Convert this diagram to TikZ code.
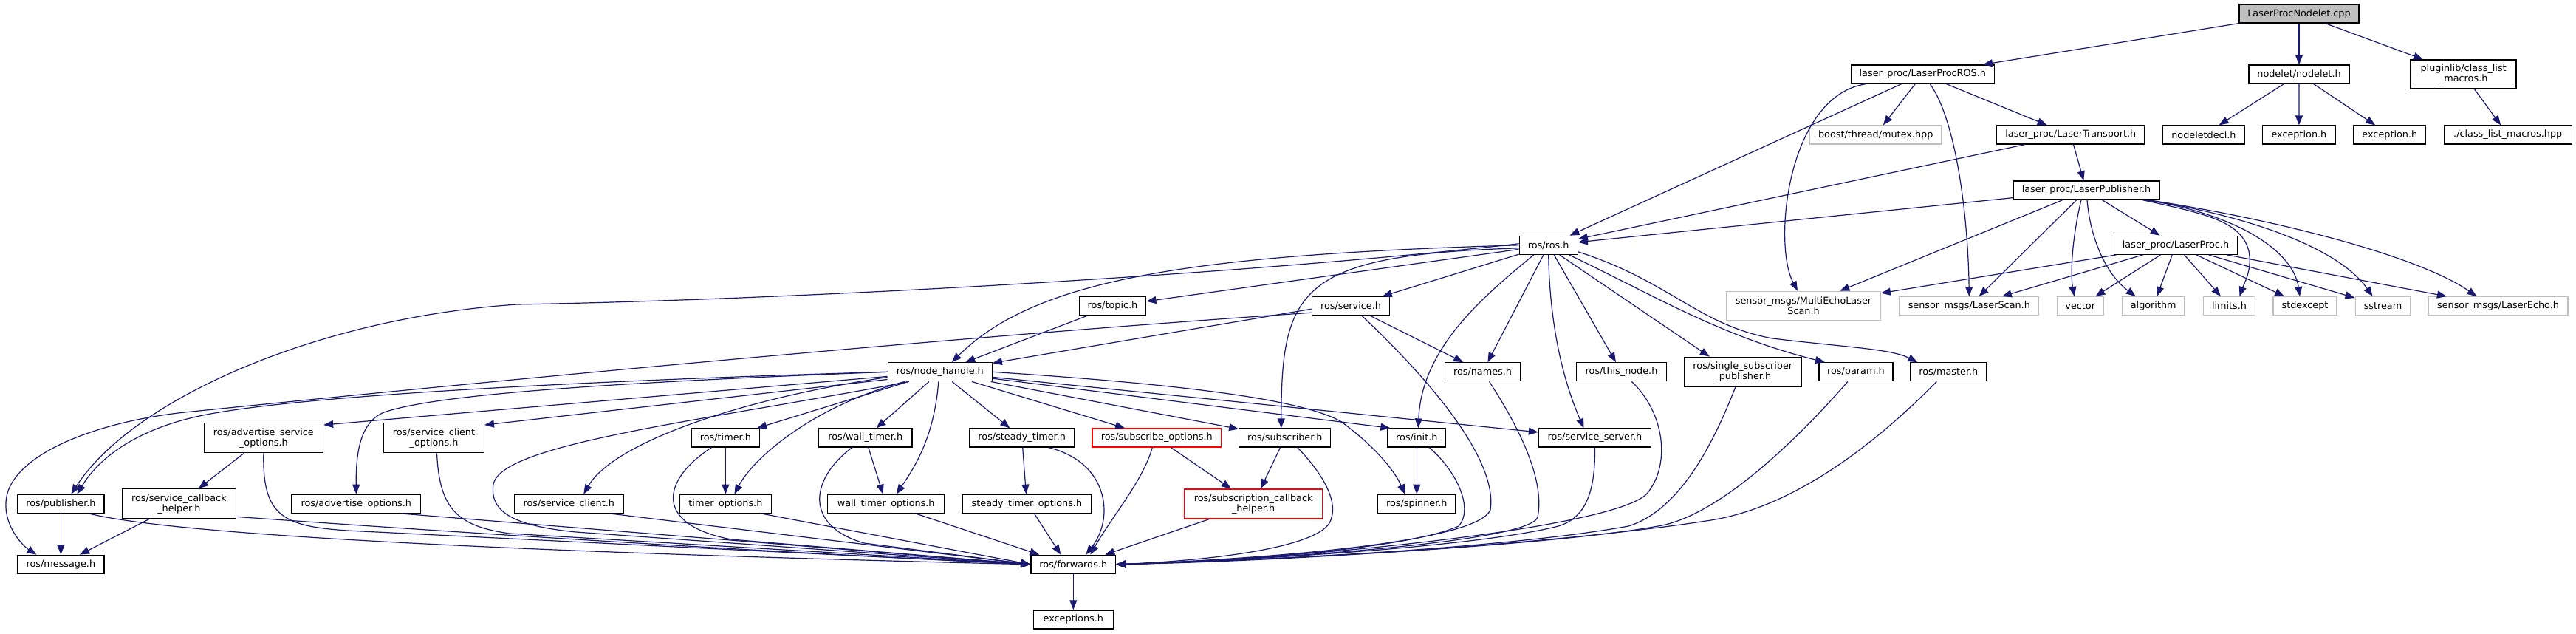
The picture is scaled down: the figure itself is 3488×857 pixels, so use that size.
\documentclass[tikz,border=0pt]{standalone}
\usepackage{fontspec}
\setmainfont{DejaVu Sans}
\usetikzlibrary{arrows.meta}
\definecolor{edgeblue}{HTML}{191970}
\definecolor{grayb}{HTML}{BFBFBF}
\begin{document}
\begin{tikzpicture}[x=1pt,y=-1pt,
  nd/.style={draw=black, fill=white, line width=1.3pt, rectangle, inner sep=0pt,
    minimum height=25pt, align=center, font=\fontsize{12.8}{14}\selectfont},
  nd2/.style={nd, minimum height=40pt},
  gr/.style={draw=grayb},
  rd/.style={draw=red},
  ed/.style={draw=edgeblue, line width=1.2pt, -{Triangle[length=13pt,width=10pt]}}]
\fill[white] (0,0) rectangle (3488,857);
\useasboundingbox (0,0) rectangle (3488,857);
% ---------- nodes ----------
\node[nd, fill=grayb, minimum width=162pt] (A) at (3113,18.5) {LaserProcNodelet.cpp};
\node[nd, minimum width=194pt] (B) at (2603.3,100.5) {laser\_proc/LaserProcROS.h};
\node[nd, minimum width=136pt] (C) at (3113,100.5) {nodelet/nodelet.h};
\node[nd2, minimum width=143pt, minimum height=39pt] (D) at (3335.6,100.5) {pluginlib/class\_list\\\_macros.h};
\node[nd, gr, minimum width=178.6pt] (E) at (2539.7,182.5) {boost/thread/mutex.hpp};
\node[nd, minimum width=200pt] (F) at (2803.8,182.5) {laser\_proc/LaserTransport.h};
\node[nd, minimum width=110.5pt] (G) at (2983.9,182.5) {nodeletdecl.h};
\node[nd, minimum width=99pt] (H) at (3112.9,182.5) {exception.h};
\node[nd, minimum width=98pt] (I) at (3235.8,182.5) {exception.h};
\node[nd, minimum width=173pt] (J) at (3395.7,182.5) {./class\_list\_macros.hpp};
\node[nd, minimum width=198pt] (K) at (2825,257.5) {laser\_proc/LaserPublisher.h};
\node[nd, minimum width=79pt] (L) at (2096.7,331.8) {ros/ros.h};
\node[nd, minimum width=167pt] (M) at (2946,331.8) {laser\_proc/LaserProc.h};
\node[nd, minimum width=90.6pt] (N) at (1506.5,414.2) {ros/topic.h};
\node[nd, minimum width=105.4pt] (O) at (1829,414.2) {ros/service.h};
\node[nd2, gr, minimum width=208.5pt, minimum height=39pt] (P) at (2442,413.8) {sensor\_msgs/MultiEchoLaser\\Scan.h};
\node[nd, gr, minimum width=189pt] (Q) at (2666.3,414.2) {sensor\_msgs/LaserScan.h};
\node[nd, gr, minimum width=63pt] (R) at (2816.7,414.2) {vector};
\node[nd, gr, minimum width=84.7pt] (S) at (2915.7,414.2) {algorithm};
\node[nd, gr, minimum width=70pt] (T) at (3018.5,414.2) {limits.h};
\node[nd, gr, minimum width=86pt] (U) at (3121,414.2) {stdexcept};
\node[nd, gr, minimum width=74.6pt] (V) at (3226.5,414.2) {sstream};
\node[nd, gr, minimum width=189pt] (W) at (3382.5,414.2) {sensor\_msgs/LaserEcho.h};
\node[nd, minimum width=141pt] (nh) at (1272.8,503.3) {ros/node\_handle.h};
\node[nd, minimum width=102.7pt] (names) at (2007.5,503.3) {ros/names.h};
\node[nd, minimum width=121.4pt] (thisnode) at (2195.5,503.3) {ros/this\_node.h};
\node[nd2, minimum width=159pt] (ssp) at (2359.8,503.3) {ros/single\_subscriber\\\_publisher.h};
\node[nd, minimum width=100pt] (param) at (2512.9,503.3) {ros/param.h};
\node[nd, minimum width=102.7pt] (master) at (2638.3,503.3) {ros/master.h};
\node[nd2, minimum width=161.2pt] (aso) at (356.9,592.7) {ros/advertise\_service\\\_options.h};
\node[nd2, minimum width=135.7pt] (sco) at (587.5,592.7) {ros/service\_client\\\_options.h};
\node[nd, minimum width=91.5pt] (timer) at (982.4,592.5) {ros/timer.h};
\node[nd, minimum width=126.3pt] (walltimer) at (1171.7,592.5) {ros/wall\_timer.h};
\node[nd, minimum width=142.4pt] (steadytimer) at (1383.7,592.5) {ros/steady\_timer.h};
\node[nd, rd, minimum width=174.6pt] (subopt) at (1566.3,592.5) {ros/subscribe\_options.h};
\node[nd, minimum width=124pt] (subscriber) at (1739.8,592.5) {ros/subscriber.h};
\node[nd, minimum width=78.6pt] (init) at (1918.3,592.5) {ros/init.h};
\node[nd, minimum width=152pt] (srvserver) at (2159.5,592.5) {ros/service\_server.h};
\node[nd, minimum width=117.4pt] (pub) at (82.4,681.8) {ros/publisher.h};
\node[nd2, minimum width=154.4pt] (sch) at (242.4,681.7) {ros/service\_callback\\\_helper.h};
\node[nd, minimum width=174.6pt] (advopt) at (482.3,681.8) {ros/advertise\_options.h};
\node[nd, minimum width=148pt] (srvclient) at (770.3,681.8) {ros/service\_client.h};
\node[nd, minimum width=123.7pt] (timeropt) at (982.4,681.8) {timer\_options.h};
\node[nd, minimum width=158.5pt] (walltimeropt) at (1199.7,681.8) {wall\_timer\_options.h};
\node[nd, minimum width=174.6pt] (steadytimeropt) at (1390.4,681.8) {steady\_timer\_options.h};
\node[nd2, rd, minimum width=187pt] (subcb) at (1697.1,682) {ros/subscription\_callback\\\_helper.h};
\node[nd, minimum width=105.4pt] (spinner) at (1918.3,681.8) {ros/spinner.h};
\node[nd, minimum width=117.4pt] (msg) at (82.4,763.8) {ros/message.h};
\node[nd, minimum width=114.8pt] (fwd) at (1453.3,763.8) {ros/forwards.h};
\node[nd, minimum width=108pt] (exc) at (1453.3,838.4) {exceptions.h};
% ---------- top part ----------
\draw[ed] (A) -- (B);
\draw[ed] (A) -- (C);
\draw[ed] (A) -- (D);
\draw[ed] (C) -- (G);
\draw[ed] (C) -- (H);
\draw[ed] (C) -- (I);
\draw[ed] (D) -- (J);
\draw[ed] (B) -- (E);
\draw[ed] (B) -- (F);
\draw[ed] (B) -- (L);
\draw[ed] ([xshift=-77pt]B.south) .. controls (2420,130) and (2400,330) .. ([xshift=-8pt]P.north);
\draw[ed] ([xshift=10pt]B.south) .. controls (2650,165) and (2665,300) .. (Q.north);
\draw[ed] (F) -- (L);
\draw[ed] (F) -- (K);
\draw[ed] (K) -- (L);
\draw[ed] (K) -- (P);
\draw[ed] (K) -- (Q);
\draw[ed] (K) -- (M);
\draw[ed] ([xshift=-7pt]K.south) .. controls (2806,320) and (2803,370) .. ([xshift=-8pt]R.north);
\draw[ed] ([xshift=1pt]K.south) .. controls (2830,320) and (2850,370) .. ([xshift=-24pt]S.north);
\draw[ed] ([xshift=76pt]K.south) .. controls (2990,290) and (3035,300) .. (3045,340) .. controls (3050,365) and (3038,385) .. ([xshift=14pt]T.north);
\draw[ed] ([xshift=80pt]K.south) .. controls (3030,290) and (3105,340) .. ([xshift=-7pt]U.north);
\draw[ed] ([xshift=82pt]K.south) .. controls (3060,295) and (3170,340) .. ([xshift=-14pt]V.north);
\draw[ed] ([xshift=84pt]K.south) .. controls (3100,300) and (3280,350) .. ([xshift=-29pt]W.north);
\draw[ed] (M) -- (P);
\draw[ed] (M) -- (Q);
\draw[ed] (M) -- (R);
\draw[ed] (M) -- (S);
\draw[ed] (M) -- (T);
\draw[ed] (M) -- (U);
\draw[ed] (M) -- (V);
\draw[ed] (M) -- (W);
% ---------- ros.h ----------
\draw[ed] (L) -- (N);
\draw[ed] (L) -- (O);
\draw[ed] (L.west) .. controls (1600,345) and (1400,380) .. ([xshift=16pt]nh.north);
\draw[ed] ([yshift=2pt]L.west) .. controls (1700,370) and (1100,405) .. (700,412) .. controls (430,430) and (180,540) .. ([xshift=14pt]pub.north);
\draw[ed] ([yshift=-4pt]L.west) .. controls (1760,345) and (1735,390) .. ([xshift=-5pt]subscriber.north);
\draw[ed] (L) -- (names);
\draw[ed] ([xshift=-20pt]L.south) .. controls (2010,400) and (1925,470) .. ([xshift=2pt]init.north);
\draw[ed] (L.south) .. controls (2098,420) and (2110,500) .. ([xshift=-15pt]srvserver.north);
\draw[ed] (L) -- (thisnode);
\draw[ed] ([xshift=15pt]L.south) -- ([xshift=-45pt]ssp.north);
\draw[ed] ([xshift=28pt]L.south) .. controls (2240,400) and (2330,455) .. ([xshift=-42pt]param.north);
\draw[ed] ([yshift=-9pt]L.east) .. controls (2260,380) and (2300,440) .. (2400,458) .. controls (2500,470) and (2560,472) .. ([xshift=-42pt]master.north);
% ---------- topic / service ----------
\draw[ed] (N) -- (nh);
\draw[ed] ([yshift=-4pt]O.west) -- (nh);
\draw[ed] ([yshift=-9pt]O.west) .. controls (1300,455) and (700,512) .. (250,558) .. controls (120,572) and (10,620) .. (8,680) .. controls (6,712) and (30,738) .. ([xshift=-33pt]msg.north);
\draw[ed] (O) -- (names);
\draw[ed] ([xshift=15pt]O.south) .. controls (1900,480) and (2030,610) .. (2018,690) .. controls (2000,735) and (1700,757) .. (fwd.east);
% ---------- node_handle ----------
\draw[ed] (nh.west) .. controls (800,515) and (400,535) .. (270,563) .. controls (200,578) and (140,610) .. ([xshift=22pt]pub.north);
\draw[ed] (nh.west) .. controls (900,515) and (600,530) .. (520,558) .. controls (485,572) and (482,620) .. (advopt.north);
\draw[ed] (nh) -- ([yshift=-3pt]aso.north east);
\draw[ed] ([yshift=3pt]nh.south west) -- ([yshift=-3pt]sco.north east);
\draw[ed] ([yshift=6pt]nh.south west) .. controls (1000,540) and (830,600) .. ([xshift=20pt]srvclient.north);
\draw[ed] (nh) -- (timer);
\draw[ed] ([xshift=-48pt]nh.south) .. controls (1100,550) and (1020,620) .. ([xshift=12pt]timeropt.north);
\draw[ed] (nh) -- (walltimer);
\draw[ed] ([xshift=-2pt]nh.south) .. controls (1265,590) and (1240,630) .. ([xshift=14pt]walltimeropt.north);
\draw[ed] (nh) -- (steadytimer);
\draw[ed] (nh) -- (subopt);
\draw[ed] (nh) -- (subscriber);
\draw[ed] (nh) -- ([xshift=4pt]init.north west);
\draw[ed] (nh.east) .. controls (1600,520) and (1760,540) .. (1815,570) .. controls (1850,595) and (1885,630) .. ([xshift=-16pt]spinner.north);
\draw[ed] (nh) -- (srvserver);
\draw[ed] ([xshift=-42pt]nh.south) .. controls (950,570) and (680,600) .. (668,655) .. controls (662,695) and (700,712) .. (780,720) -- (fwd.west);
% ---------- second level ----------
\draw[ed] (aso) -- (sch);
\draw[ed] (pub) -- (msg);
\draw[ed] (sch) -- (msg);
\draw[ed] (timer) -- (timeropt);
\draw[ed] (walltimer) -- (walltimeropt);
\draw[ed] (steadytimer) -- (steadytimeropt);
\draw[ed] (subopt) -- (subcb);
\draw[ed] (subscriber) -- (subcb);
\draw[ed] (init) -- (spinner);
% ---------- into forwards.h from the left ----------
\draw[ed] ([xshift=38pt]pub.south) .. controls (220,720) and (600,745) .. (fwd.west);
\draw[ed] ([yshift=3pt]sch.south east) .. controls (500,712) and (900,740) .. (fwd.west);
\draw[ed] (aso.south) .. controls (355,700) and (385,712) .. (470,718) -- (fwd.west);
\draw[ed] ([xshift=60pt]advopt.south) -- (fwd.west);
\draw[ed] ([xshift=4pt]sco.south) .. controls (595,690) and (620,712) .. (690,722) -- (fwd.west);
\draw[ed] ([xshift=55pt]srvclient.south) -- (fwd.west);
\draw[ed] ([xshift=-19pt]timer.south) .. controls (895,650) and (885,710) .. (990,730) -- (fwd.west);
\draw[ed] ([xshift=48pt]timeropt.south) -- (fwd.west);
\draw[ed] ([xshift=-18pt]walltimer.south) .. controls (1095,650) and (1090,712) .. (1170,735) -- (fwd.west);
% ---------- into forwards.h from above ----------
\draw[ed] ([xshift=40pt]walltimeropt.south) -- ([xshift=-46pt]fwd.north);
\draw[ed] ([xshift=10pt]steadytimeropt.south) -- ([xshift=-17pt]fwd.north);
\draw[ed] ([xshift=36pt]steadytimer.south) .. controls (1500,625) and (1510,700) .. ([xshift=17pt]fwd.north);
\draw[ed] ([xshift=-6pt]subopt.south) .. controls (1548,650) and (1505,700) .. ([xshift=23pt]fwd.north);
\draw[ed] ([xshift=-60pt]subcb.south) -- ([xshift=43pt]fwd.north);
% ---------- into forwards.h from the right ----------
\draw[ed] ([xshift=17pt]subscriber.south) .. controls (1790,640) and (1815,680) .. (1800,708) .. controls (1780,740) and (1650,758) .. (fwd.east);
\draw[ed] ([xshift=17pt]init.south) .. controls (1975,640) and (1995,690) .. (1975,712) .. controls (1900,745) and (1650,760) .. (fwd.east);
\draw[ed] ([xshift=9pt]names.south) .. controls (2058,580) and (2092,650) .. (2082,700) .. controls (2070,735) and (1700,758) .. (fwd.east);
\draw[ed] (srvserver.south) .. controls (2160,660) and (2150,700) .. (2110,712) .. controls (2000,740) and (1700,758) .. (fwd.east);
\draw[ed] ([xshift=14pt]thisnode.south) .. controls (2255,560) and (2262,630) .. (2230,668) .. controls (2190,712) and (1800,755) .. (fwd.east);
\draw[ed] ([xshift=-10pt]ssp.south) .. controls (2320,600) and (2275,690) .. (2205,712) .. controls (2050,740) and (1750,757) .. (fwd.east);
\draw[ed] ([xshift=-11pt]param.south) .. controls (2420,610) and (2320,700) .. (2245,712) .. controls (2100,738) and (1750,757) .. (fwd.east);
\draw[ed] ([xshift=-16pt]master.south) .. controls (2530,610) and (2420,690) .. (2310,705) .. controls (2150,730) and (1800,758) .. (fwd.east);
\draw[ed] (fwd) -- (exc);
\end{tikzpicture}
\end{document}
